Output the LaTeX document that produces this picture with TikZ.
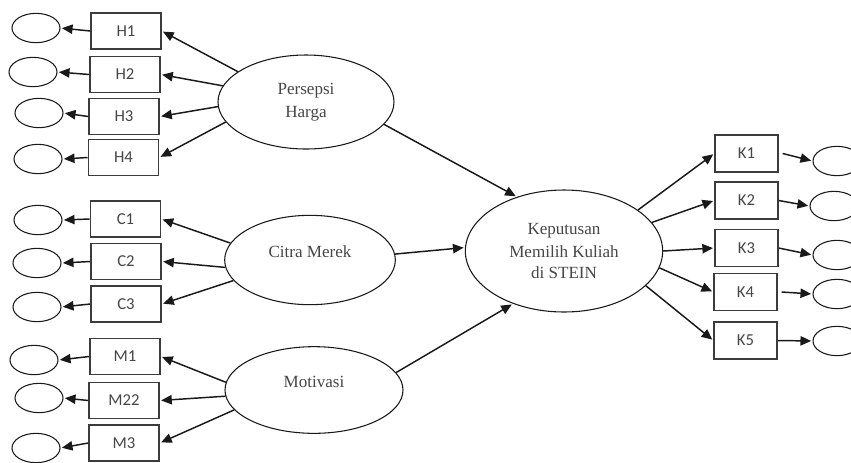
\documentclass[tikz,border=0pt]{standalone}
\usepackage{fontspec}
\setmainfont{Liberation Serif}
\newfontfamily\boxfont{Carlito}
\usetikzlibrary{shapes.geometric, arrows.meta, positioning}
\definecolor{linegray}{RGB}{25, 25, 25}
\definecolor{textgray}{RGB}{70, 70, 70}

\begin{document}
\begin{tikzpicture}[
        x=0.75pt, y=-0.75pt,
        latent/.style={draw=linegray, ellipse, line width=0.8pt, inner sep=0pt, align=center, font=\fontsize{12.8}{15.5}\selectfont, text=textgray},
        indicator/.style={draw=linegray!85, line width=1.2pt, minimum width=52.5pt, minimum height=27pt, inner sep=0pt, font=\boxfont\fontsize{12.5}{14}\selectfont, text=textgray},
        errterm/.style={draw=linegray, ellipse, line width=0.8pt, minimum width=36pt, minimum height=22pt, inner sep=0pt},
        arrow/.style={line width=1.1pt, draw=linegray, -{Triangle[length=8pt, width=7pt]}, shorten >=1pt}
    ]
        \useasboundingbox (0,0) rectangle (851,462);
        \clip (0,0) rectangle (851,462);

        % latent variables
        \node[latent, minimum width=132pt, minimum height=70.5pt] (harga) at (306,102) {\raisebox{1.5pt}{Persepsi}\\Harga};
        \node[latent, minimum width=128pt, minimum height=67pt] (citra) at (310,260) {\raisebox{2pt}[0pt][0pt]{Citra Merek}};
        \node[latent, minimum width=133.5pt, minimum height=65pt] (motivasi) at (314,390) {\raisebox{2pt}[0pt][0pt]{Motivasi}};
        \node[latent, minimum width=148pt, minimum height=91.5pt] (keputusan) at (564,251) {\raisebox{1.5pt}{Keputusan}\\Memilih Kuliah\\di STEIN};

        % indicators
        \node[indicator] (H1) at (126,31) {H1};
        \node[indicator] (H2) at (125,74.5) {H2};
        \node[indicator] (H3) at (124,116.5) {H3};
        \node[indicator] (H4) at (123.5,157.5) {H4};
        \node[indicator] (C1) at (125.5,219) {C1};
        \node[indicator] (C2) at (126,261.5) {C2};
        \node[indicator] (C3) at (126,304) {C3};
        \node[indicator] (M1) at (125,356.5) {M1};
        \node[indicator] (M22) at (124,400.5) {M22};
        \node[indicator] (M3) at (124,443) {M3};
        \node[indicator, minimum width=47pt, minimum height=28pt] (K1) at (746.5,153.5) {K1};
        \node[indicator, minimum width=47pt, minimum height=28pt] (K2) at (746.5,200.5) {K2};
        \node[indicator, minimum width=47pt, minimum height=28pt] (K3) at (746.5,248) {K3};
        \node[indicator, minimum width=47pt, minimum height=28pt] (K4) at (745.5,292) {K4};
        \node[indicator, minimum width=47pt, minimum height=28pt] (K5) at (745.5,340.5) {K5};

        % error terms
        \node[errterm] (eH1) at (36,28) {};
        \node[errterm] (eH2) at (33,72) {};
        \node[errterm] (eH3) at (39,113) {};
        \node[errterm] (eH4) at (38,159) {};
        \node[errterm] (eC1) at (38,220) {};
        \node[errterm] (eC2) at (37,263) {};
        \node[errterm] (eC3) at (37,307) {};
        \node[errterm] (eM1) at (34,360) {};
        \node[errterm] (eM22) at (39,398) {};
        \node[errterm] (eM3) at (36,448) {};
        \node[errterm] (eK1) at (837,161) {};
        \node[errterm] (eK2) at (834,206) {};
        \node[errterm] (eK3) at (837,255) {};
        \node[errterm] (eK4) at (837,294) {};
        \node[errterm] (eK5) at (837,341) {};

        % loadings
        \draw[arrow] (harga.156) -- (H1.east);
        \draw[arrow] (harga.169) -- (H2.east);
        \draw[arrow] (harga.183) -- (H3.east);
        \draw[arrow] (harga.194) -- (H4.east);
        \draw[arrow] (citra.168) -- (C1.east);
        \draw[arrow] (citra.185) -- (C2.east);
        \draw[arrow] (citra.195) -- (C3.east);
        \draw[arrow] (motivasi.175) -- (M1.east);
        \draw[arrow] (motivasi.184) -- (M22.east);
        \draw[arrow] (motivasi.194) -- (M3.east);
        \draw[arrow] (keputusan.29) -- (K1.west);
        \draw[arrow] (keputusan.18) -- (K2.west);
        \draw[arrow] (keputusan.0) -- (K3.west);
        \draw[arrow] (keputusan.-10) -- (K4.west);
        \draw[arrow] (keputusan.-23) -- (K5.west);

        % paths
        \draw[arrow] (harga.-16) -- (keputusan.131);
        \draw[arrow] (citra.4) -- (keputusan.178);
        \draw[arrow] (motivasi.12) -- (keputusan.226);

        % errors
        \draw[arrow] (H1.west) -- (eH1.east);
        \draw[arrow] (H2.west) -- (eH2.east);
        \draw[arrow] (H3.west) -- (eH3.east);
        \draw[arrow] (H4.west) -- (eH4.east);
        \draw[arrow] (C1.west) -- (eC1.east);
        \draw[arrow] (C2.west) -- (eC2.east);
        \draw[arrow] (C3.west) -- (eC3.east);
        \draw[arrow] (M1.west) -- (eM1.east);
        \draw[arrow] (M22.west) -- (eM22.east);
        \draw[arrow] (M3.west) -- (eM3.east);
        \draw[arrow] ([xshift=3pt]K1.east) -- (eK1.west);
        \draw[arrow] (K2.east) -- (eK2.west);
        \draw[arrow] (K3.east) -- (eK3.west);
        \draw[arrow] ([xshift=3pt]K4.east) -- (eK4.west);
        \draw[arrow] (K5.east) -- (eK5.west);
    \end{tikzpicture}
\end{document}
